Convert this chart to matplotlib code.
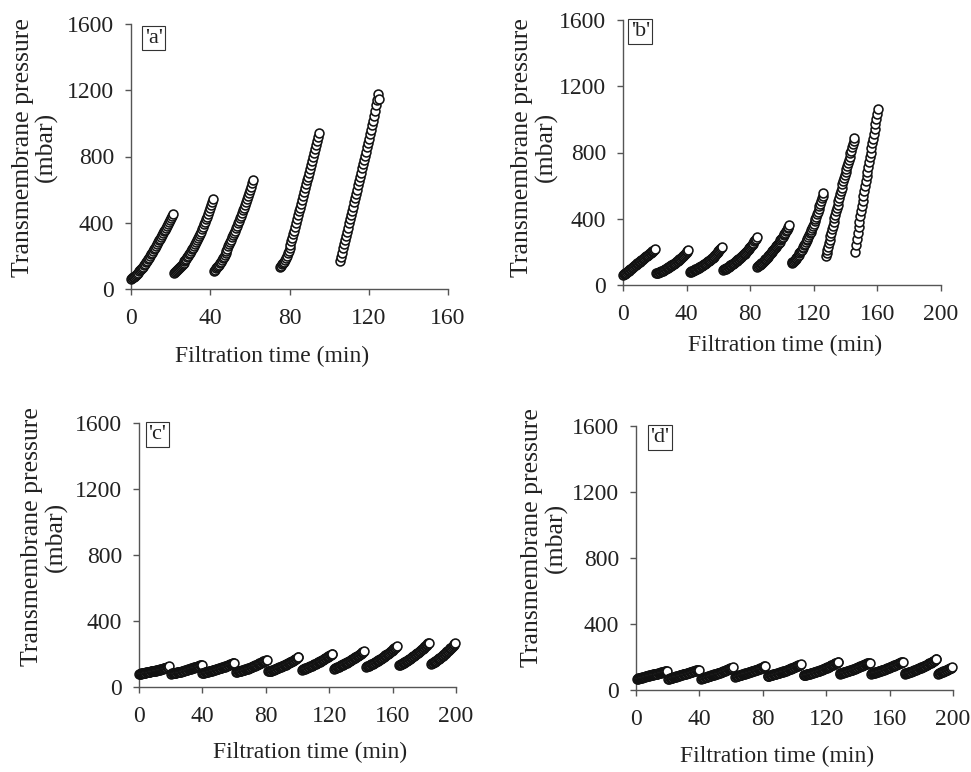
import numpy as np
import matplotlib
matplotlib.use("Agg")
import matplotlib.pyplot as plt

plt.rcParams['font.family'] = ['Liberation Serif', 'DejaVu Serif']

# ---------------- data ----------------
# Each cycle: start time (min) and TMP values (mbar) read every STEP min
STEP = 0.5

a_starts = [0.0, 21.5, 41.7, 75.0, 105.5]
a_c1 = [60, 65, 70, 75, 81, 87, 93, 99, 106, 113, 120, 127, 135, 143, 152, 161, 170, 179, 189, 199, 209, 219,
        229, 239, 250, 260, 271, 282, 293, 304, 315, 326, 337, 348, 359, 370, 382, 394, 406, 418, 430, 442, 455]
a_c2 = [95, 100, 106, 112, 118, 124, 131, 138, 145, 152, 160, 168, 176, 184, 193, 202, 211, 220, 230, 240, 250,
        261, 272, 283, 295, 307, 320, 333, 347, 361, 376, 391, 406, 421, 437, 453, 470, 487, 505, 523, 541]
a_c3 = [111, 117, 124, 131, 139, 147, 156, 165, 175, 185, 196, 207, 219, 231, 244, 257, 270, 283, 297, 311, 325,
        339, 353, 367, 382, 397, 412, 427, 443, 459, 475, 491, 508, 525, 543, 561, 580, 599, 618, 638, 658]
a_c4 = [133, 140, 148, 157, 166, 177, 188, 201, 215, 231, 248, 267, 287, 308, 330, 352, 375, 398, 421, 444, 468,
        491, 515, 538, 562, 585, 609, 632, 656, 679, 703, 726, 750, 774, 798, 822, 846, 870, 894, 917, 940]
a_c5 = [170, 195, 220, 245, 270, 295, 320, 345, 371, 396, 422, 447, 473, 498, 524, 549, 575, 600, 626, 651, 677,
        702, 728, 753, 779, 804, 830, 856, 882, 908, 935, 962, 989, 1016, 1044, 1077, 1110, 1142, 1175, 1150]

b_starts = [0.0, 21.0, 42.0, 63.0, 84.5, 106.0, 127.5, 146.2]
b_c1 = [60, 64, 68, 72, 75, 79, 83, 87, 91, 95, 99, 103, 106, 110, 114, 118, 122, 126, 130, 134, 137,
        141, 145, 149, 153, 157, 161, 165, 169, 173, 176, 180, 184, 188, 192, 196, 200, 204, 207, 211, 215]
b_c2 = [70, 72, 74, 76, 78, 80, 82, 85, 87, 90, 92, 95, 97, 100, 103, 106, 109, 112, 115, 118, 121,
        125, 128, 132, 135, 139, 143, 147, 151, 155, 159, 164, 168, 173, 177, 182, 187, 193, 198, 205, 211]
b_c3 = [78, 80, 82, 84, 86, 89, 91, 94, 96, 99, 101, 104, 106, 109, 112, 115, 118, 121, 124, 128, 131,
        135, 138, 142, 145, 149, 153, 157, 161, 166, 170, 175, 180, 186, 191, 197, 203, 209, 215, 222, 228]
b_c4 = [91, 94, 96, 99, 102, 105, 108, 111, 114, 118, 121, 125, 128, 132, 135, 139, 143, 147, 151, 155, 159,
        163, 167, 172, 176, 181, 185, 190, 195, 200, 205, 211, 216, 222, 228, 235, 241, 248, 255, 263, 270, 279, 288]
b_c5 = [110, 114, 118, 122, 126, 131, 135, 140, 144, 149, 154, 159, 164, 170, 175, 181, 186, 192, 198, 204, 210,
        216, 222, 229, 235, 242, 248, 255, 262, 269, 276, 284, 291, 299, 307, 316, 324, 333, 342, 352, 362]
b_c6 = [131, 136, 141, 147, 152, 158, 164, 171, 177, 184, 191, 199, 206, 214, 222, 231, 240, 250, 259, 269, 279,
        290, 300, 311, 322, 334, 346, 359, 371, 385, 398, 413, 427, 443, 458, 474, 490, 507, 523, 540, 557]
b_c7 = [175, 194, 212, 232, 252, 273, 294, 316, 337, 359, 380, 402, 423, 444, 465, 486, 507, 528, 548,
        568, 588, 608, 627, 646, 665, 684, 702, 720, 738, 757, 775, 794, 812, 831, 849, 868, 886]
b_c8 = [201, 242, 280, 316, 350, 383, 415, 446, 477, 508, 538, 568, 598, 627, 656,
        685, 713, 742, 770, 799, 827, 856, 884, 913, 942, 972, 1002, 1033, 1063]

c_starts = [0.0, 20.5, 40.0, 61.5, 81.5, 103.0, 123.0, 143.5, 164.0, 184.5]
c_c1 = [79, 80, 81, 82, 83, 84, 85, 86, 87, 88, 89, 90, 91, 92, 93, 94, 95, 96, 97, 98,
        99, 100, 101, 102, 103, 105, 106, 108, 109, 111, 112, 114, 115, 117, 118, 120, 122, 124, 126]
c_c2 = [81, 82, 83, 84, 85, 86, 87, 88, 89, 90, 91, 92, 93, 95, 96, 98, 99, 101, 102, 104,
        105, 107, 108, 110, 111, 113, 114, 116, 117, 119, 120, 122, 123, 125, 127, 129, 131, 133, 135]
c_c3 = [85, 86, 87, 88, 89, 90, 91, 93, 94, 96, 97, 99, 100, 102, 103, 105, 106, 108, 109, 111, 112,
        114, 115, 117, 118, 120, 121, 123, 124, 126, 128, 130, 132, 134, 136, 138, 140, 142, 144, 146, 147]
c_c4 = [91, 93, 94, 96, 97, 99, 100, 102, 103, 105, 106, 108, 109, 111, 112, 114, 116, 118, 120, 122,
        124, 126, 128, 130, 132, 134, 136, 138, 140, 143, 145, 148, 150, 153, 155, 158, 160, 163, 166]
c_c5 = [94, 96, 97, 99, 100, 102, 103, 105, 107, 109, 111, 113, 115, 117, 119, 121, 123, 125, 127, 129,
        131, 134, 136, 139, 141, 144, 146, 149, 151, 154, 157, 160, 163, 166, 169, 172, 175, 179, 182]
c_c6 = [106, 108, 110, 112, 114, 116, 118, 120, 122, 124, 126, 128, 130, 132, 134, 137, 139, 142, 144, 147,
        149, 152, 154, 157, 159, 162, 164, 167, 170, 173, 176, 179, 182, 186, 189, 193, 196, 200, 203]
c_c7 = [112, 114, 116, 118, 120, 122, 124, 126, 128, 131, 133, 136, 138, 141, 143, 146, 148, 151, 153, 156,
        158, 161, 164, 167, 170, 173, 176, 179, 182, 185, 188, 192, 195, 199, 202, 206, 210, 214, 218]
c_c8 = [122, 125, 127, 130, 132, 135, 137, 140, 142, 145, 147, 150, 153, 156, 159, 162, 165, 168, 171, 174,
        177, 181, 184, 188, 191, 195, 198, 202, 205, 209, 213, 217, 221, 225, 229, 234, 238, 243, 247]
c_c9 = [132, 135, 137, 140, 142, 145, 148, 151, 154, 157, 160, 163, 166, 169, 172, 176, 179, 183, 186, 190,
        193, 197, 200, 204, 208, 212, 216, 220, 224, 228, 232, 237, 241, 246, 250, 255, 259, 264, 268]
c_c10 = [140, 143, 146, 150, 153, 157, 160, 164, 167, 171, 174, 178, 182, 186, 190, 194,
         198, 203, 207, 212, 216, 221, 225, 230, 234, 239, 244, 249, 254, 260, 265]

d_starts = [0.5, 20.5, 41.0, 62.5, 83.0, 105.7, 128.5, 148.5, 169.5, 190.5]
d_c1 = [68, 69, 70, 72, 73, 74, 75, 77, 78, 79, 80, 82, 83, 84, 85, 87, 88, 89, 90, 92,
        93, 94, 95, 97, 98, 99, 100, 102, 103, 104, 105, 107, 108, 109, 110, 112, 113, 115, 116]
d_c2 = [67, 69, 70, 72, 73, 75, 76, 78, 79, 81, 82, 84, 85, 87, 88, 90, 91, 93, 94, 96,
        97, 99, 100, 102, 103, 105, 106, 108, 109, 111, 112, 114, 115, 117, 118, 120, 121, 123, 124]
d_c3 = [69, 71, 72, 74, 75, 77, 78, 80, 81, 83, 84, 86, 87, 89, 90, 92, 93, 95, 96, 98, 99,
        101, 102, 104, 105, 107, 109, 111, 113, 115, 117, 119, 121, 123, 125, 127, 129, 131, 133, 135, 137]
d_c4 = [81, 83, 84, 86, 87, 89, 90, 92, 93, 95, 96, 98, 99, 101, 102, 104, 105, 107, 108, 110,
        111, 113, 114, 116, 117, 119, 120, 122, 124, 126, 128, 130, 132, 134, 136, 138, 140, 143, 145]
d_c5 = [83, 85, 86, 88, 89, 91, 92, 94, 95, 97, 98, 100, 101, 103, 104, 106, 107, 109, 110, 112, 113,
        115, 116, 118, 119, 121, 123, 125, 127, 129, 131, 133, 135, 137, 139, 141, 143, 145, 147, 149, 151, 153, 155]
d_c6 = [88, 90, 91, 93, 94, 96, 97, 99, 100, 102, 103, 105, 106, 108, 109, 111, 112, 114, 115, 117, 118, 120,
        122, 124, 126, 128, 130, 132, 134, 136, 138, 140, 142, 144, 146, 149, 151, 154, 156, 159, 161, 164, 166, 169, 172]
d_c7 = [99, 101, 102, 104, 105, 107, 108, 110, 111, 113, 114, 116, 117, 119, 120, 122, 123, 125, 127, 129,
        131, 133, 135, 137, 139, 141, 143, 145, 147, 149, 151, 153, 155, 157, 159, 161, 163, 165, 166]
d_c8 = [99, 101, 102, 104, 105, 107, 108, 110, 111, 113, 114, 116, 117, 119, 120, 122, 124, 126, 128, 130, 132,
        134, 136, 138, 140, 142, 144, 146, 148, 150, 152, 154, 156, 158, 160, 162, 164, 166, 168, 170, 172]
d_c9 = [100, 102, 103, 105, 106, 108, 109, 111, 112, 114, 116, 118, 120, 122, 124, 126, 128, 130, 132, 134, 136,
        138, 140, 142, 144, 146, 148, 151, 153, 156, 158, 161, 163, 166, 168, 171, 174, 178, 181, 185, 189]
d_c10 = [100, 102, 104, 106, 108, 110, 112, 114, 116, 118, 120, 122, 124, 126, 128, 131, 133, 136, 139]

panels = [
    ("'a'", a_starts, [a_c1, a_c2, a_c3, a_c4, a_c5], [0, 40, 80, 120, 160]),
    ("'b'", b_starts, [b_c1, b_c2, b_c3, b_c4, b_c5, b_c6, b_c7, b_c8], [0, 40, 80, 120, 160, 200]),
    ("'c'", c_starts, [c_c1, c_c2, c_c3, c_c4, c_c5, c_c6, c_c7, c_c8, c_c9, c_c10], [0, 40, 80, 120, 160, 200]),
    ("'d'", d_starts, [d_c1, d_c2, d_c3, d_c4, d_c5, d_c6, d_c7, d_c8, d_c9, d_c10], [0, 40, 80, 120, 160, 200]),
]
y_ticks = [0, 400, 800, 1200, 1600]
xlabel_text = "Filtration time (min)"
ylabel_text = "Transmembrane pressure\n(mbar)"

# ---------------- layout ----------------
W, H = 971, 772
fig = plt.figure(figsize=(W / 100, H / 100), dpi=100)

# axes boxes in pixels: left, right, top, bottom
boxes = [(131, 448, 24, 289), (623, 941, 20, 285), (139, 456, 423, 687), (636, 953, 426, 690)]
xlabel_pos = [(0.445, -0.215), (0.509, -0.19), (0.54, -0.208), (0.445, -0.212)]
ylabel_pos = [(-0.23, 0.535), (-0.205, 0.52), (-0.224, 0.568), (-0.215, 0.576)]
tag_pos = [(0.043, 0.982), (0.024, 0.992), (0.03, 0.992), (0.045, 0.992)]

FS = 17
for (tag, starts, cycles, xt), (l, r, t, b), xlp, ylp, tp in zip(panels, boxes, xlabel_pos, ylabel_pos, tag_pos):
    ax = fig.add_axes([l / W, 1 - b / H, (r - l) / W, (b - t) / H])
    for i, (t0, vals) in enumerate(zip(starts, cycles)):
        vals = np.asarray(vals, dtype=float)
        times = t0 + STEP * np.arange(len(vals))
        ax.plot(times, vals, linestyle='none', marker='o', markersize=6.4,
                markerfacecolor='white', markeredgecolor='#111111',
                markeredgewidth=1.15, clip_on=False, zorder=3 + i)
    ax.set_xlim(xt[0], xt[-1])
    ax.set_ylim(0, 1600)
    ax.set_xticks(xt)
    ax.set_yticks(y_ticks)
    for s in ['top', 'right']:
        ax.spines[s].set_visible(False)
    for s in ['left', 'bottom']:
        ax.spines[s].set_color('#555555')
        ax.spines[s].set_linewidth(1.0)
    ax.tick_params(axis='both', direction='out', length=4, width=1.0, color='#555555',
                   labelsize=FS, labelcolor='#222222')
    ax.tick_params(axis='y', pad=8)
    ax.tick_params(axis='x', pad=10)
    ax.set_xlabel(xlabel_text, fontsize=FS, color='#222222')
    ax.set_ylabel(ylabel_text, fontsize=18.5, color='#222222', linespacing=1.08)
    ax.xaxis.set_label_coords(*xlp)
    ax.yaxis.set_label_coords(*ylp)
    ax.text(tp[0], tp[1], tag, transform=ax.transAxes, ha='left', va='top',
            fontsize=16, color='#222222',
            bbox=dict(boxstyle='square,pad=0.12', facecolor='white', edgecolor='#333333', linewidth=0.8))
    ax.patch.set_alpha(0)

fig.savefig('out.png', dpi=100)
